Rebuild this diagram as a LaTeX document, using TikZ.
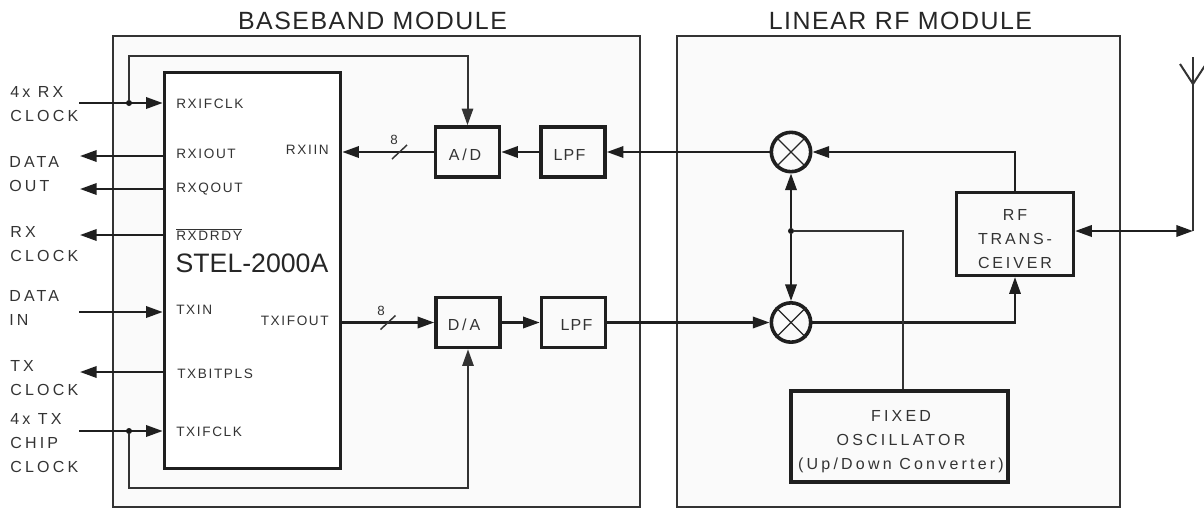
\documentclass[tikz,border=0pt]{standalone}
\usepackage{fontspec}
\setmainfont{Liberation Sans}
\usetikzlibrary{arrows.meta}
\tikzset{
	module/.style={draw=black!80,line width=1pt,fill=black!2,inner sep=0pt},
	blk/.style={draw=black!88,line width=2.7pt,inner sep=0pt},
	blktext/.style={inner sep=0pt,align=center,font=\fontsize{12}{18}\selectfont\addfontfeatures{LetterSpace=18},text=black!80},
	lpftext/.style={inner sep=0pt,font=\fontsize{12}{18}\selectfont\addfontfeatures{LetterSpace=8},text=black!80},
	mixer/.style={draw=black!88,line width=2.7pt,circle,fill=black!2,minimum size=29.5pt,inner sep=0pt},
	sig/.style={line width=1.8pt,draw=black!88},
	thinsig/.style={line width=1.5pt,draw=black!80},
	arr/.style={-{Triangle[length=12.5pt,width=8.5pt]}},
	pin/.style={inner sep=0pt,anchor=west,font=\fontsize{10.2}{12}\selectfont\addfontfeatures{LetterSpace=12},text=black!80},
	ext/.style={inner sep=0pt,anchor=west,align=left,font=\fontsize{12}{18}\selectfont\addfontfeatures{LetterSpace=20},text=black!80},
	title/.style={inner sep=0pt,font=\fontsize{18.7}{20}\selectfont\addfontfeatures{LetterSpace=6},text=black!85},
	jn/.style={circle,fill=black!90,minimum size=4.5pt,inner sep=0pt},
	busnum/.style={inner sep=0pt,font=\fontsize{10}{10}\selectfont,text=black!80},
}
\begin{document}
\begin{tikzpicture}[x=0.75pt,y=-0.75pt]
	\useasboundingbox (0,0) rectangle (1204,508);
	% modules
	\node[module,minimum width=395.25pt,minimum height=353.25pt] (base) at (376.5,271.5) {};
	\node[module,minimum width=332.25pt,minimum height=353.25pt] (rfmod) at (898.5,271.5) {};
	\node[title] (baset) at (372.5,21) {BASEBAND MODULE};
	\node[title] (rft) at (900.5,21) {LINEAR RF MODULE};

	% chip
	\node[blk,fill=white,minimum width=132pt,minimum height=297pt] (chip) at (252.5,270.5) {};
	\node[inner sep=0pt,font=\fontsize{20}{22}\selectfont,text=black!85] (chipn) at (252,263) {STEL-2000A};

	% pin names
	\node[pin] (p1) at (176,104) {RXIFCLK};
	\node[pin] (p2) at (176,154) {RXIOUT};
	\node[pin] (p3) at (176,189) {RXQOUT};
	\node[pin] (p4) at (176,234) {$\overline{\mbox{RXDRDY}}$};
	\node[pin] (p5) at (176,310) {TXIN};
	\node[pin] (p6) at (177,374) {TXBITPLS};
	\node[pin] (p7) at (176,432) {TXIFCLK};
	\node[pin,anchor=east] (p8) at (329,150) {RXIIN};
	\node[pin,anchor=east] (p9) at (329,321) {TXIFOUT};

	% blocks
	\node[blk,minimum width=48pt,minimum height=37.5pt] (ad) at (467.5,152) {};
	\node[blk,minimum width=48pt,minimum height=37.5pt] (lpfa) at (573,152) {};
	\node[blk,minimum width=48pt,minimum height=37.5pt] (da) at (468,322.5) {};
	\node[blk,minimum width=48pt,minimum height=37.5pt] (lpfb) at (573.5,322.5) {};
	\node[blktext] (adt) at (465,155) {A/D};
	\node[lpftext] (lpfat) at (569.5,155) {LPF};
	\node[blktext] (dat) at (464,325) {D/A};
	\node[lpftext] (lpfbt) at (576.5,325) {LPF};
	\node[mixer] (mxa) at (791,152) {};
	\node[mixer] (mxb) at (791,322.5) {};
	\draw[line width=1pt,black!85] (mxa.north west) -- (mxa.south east) (mxa.north east) -- (mxa.south west);
	\draw[line width=1pt,black!85] (mxb.north west) -- (mxb.south east) (mxb.north east) -- (mxb.south west);
	\node[blk,minimum width=87.5pt,minimum height=62pt] (trx) at (1015,234) {};
	\node[blktext] (trxt) at (1015,239) {RF\\TRANS-\\CEIVER};
	\node[blk,minimum width=163pt,minimum height=68.6pt] (osc) at (899.5,436.5) {};
	\node[blktext,font=\fontsize{12}{18}\selectfont\addfontfeatures{LetterSpace=20}] (osct) at (901,442) {FIXED\\OSCILLATOR\\(Up/Down Converter)};

	% external labels
	\node[ext] (l1) at (10,104) {4x RX\\CLOCK};
	\node[ext] (l2) at (9,174) {DATA\\OUT};
	\node[ext] (l3) at (10,244) {RX\\CLOCK};
	\node[ext] (l4) at (9,308) {DATA\\IN};
	\node[ext] (l5) at (10,378) {TX\\CLOCK};
	\node[ext] (l6) at (10,443) {4x TX\\CHIP\\CLOCK};

	% free ends
	\coordinate (i1) at (79,103);
	\coordinate (o2) at (80,156);
	\coordinate (o3) at (80,189);
	\coordinate (o4) at (80,235);
	\coordinate (i5) at (79,312);
	\coordinate (o6) at (80,372);
	\coordinate (i7) at (79,431);
	\coordinate (ant) at (1193,231);

	% chip connectors
	\draw[sig,arr] (i1) -- (i1-|chip.west);
	\draw[sig,arr] (o2-|chip.west) -- (o2);
	\draw[sig,arr] (o3-|chip.west) -- (o3);
	\draw[sig,arr] (o4-|chip.west) -- (o4);
	\draw[sig,arr] (i5) -- (i5-|chip.west);
	\draw[sig,arr] (o6-|chip.west) -- (o6);
	\draw[sig,arr] (i7) -- (i7-|chip.west);
	\node[jn] (ja) at (129,103) {};
	\node[jn] (jb) at (129,431) {};
	\draw[thinsig,arr] (ja) |- (300,55.5) -| (ad.north);
	\draw[thinsig,arr] (jb) |- (300,487.5) -| (da.south);

	% rx path
	\draw[sig,arr] (ad.west) -- (ad.west-|chip.east);
	\draw[sig,arr] (lpfa.west) -- (ad.east);
	\draw[sig,arr] (mxa.west) -- (lpfa.east);
	\draw[sig,line width=1.6pt,arr] (trx.north) |- (mxa.east);
	% tx path
	\draw[sig,arr] (chip.east|-da.west) -- (da.west);
	\draw[sig,arr] (da.east) -- (lpfb.west);
	\draw[sig,arr] (lpfb.east) -- (mxb.west);
	\draw[sig,line width=1.6pt,arr] (mxb.east) -| (trx.south);
	% oscillator
	\node[jn] (jc) at (791,231) {};
	\draw[sig,arr] (jc) -- (mxa.south);
	\draw[sig,arr] (jc) -- (mxb.north);
	\draw[thinsig] (jc) -| (osc.north-|903,0);
	% antenna
	\draw[sig,{Triangle[length=12.5pt,width=8.5pt]}-{Triangle[length=12.5pt,width=8.5pt]}] (trx.east|-ant) -- (ant);
	\coordinate (anttop) at (1193,57);
	\coordinate (antv) at (1193,84);
	\coordinate (antl) at (1180,64);
	\coordinate (antr) at (1206,64);
	\draw[thinsig] (ant) -- (anttop);
	\draw[thinsig] (antl) -- (antv) -- (antr);

	% bus marks
	\node[busnum] (bus1) at (394,140) {8};
	\node[busnum] (bus2) at (381,311) {8};
	\coordinate (ba) at (399.5,152);
	\coordinate (bb) at (388,322.5);
	\draw[thinsig,line width=1.1pt] ([shift={(-7.5,7)}]ba) -- ([shift={(7.5,-7)}]ba);
	\draw[thinsig,line width=1.1pt] ([shift={(-7.5,7)}]bb) -- ([shift={(7.5,-7)}]bb);
\end{tikzpicture}
\end{document}
